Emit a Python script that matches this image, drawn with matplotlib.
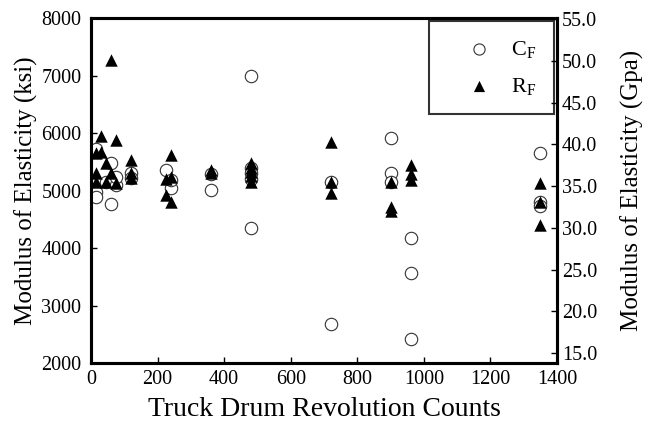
import numpy as np
import matplotlib
matplotlib.use("Agg")
import matplotlib.pyplot as plt

plt.rcParams['font.family'] = ['Liberation Serif', 'DejaVu Serif']
plt.rcParams['mathtext.fontset'] = 'custom'
plt.rcParams['mathtext.rm'] = 'Liberation Serif'
plt.rcParams['mathtext.it'] = 'Liberation Serif'

# C_F : kreds-maerker
cf_rev = [15, 15, 15, 45, 60, 60, 75, 75, 120, 120, 225, 240, 240, 360, 360,
          480, 480, 480, 480, 480, 720, 720, 900, 900, 900, 960, 960, 960,
          1350, 1350, 1350]
cf_E = [5720, 4980, 4880, 5150, 5480, 4760, 5100, 5230, 5310, 5220, 5350,
        5050, 5180, 5010, 5280, 7000, 5400, 5300, 5200, 4350, 5140, 2670,
        5920, 5300, 5150, 4170, 3560, 2420, 5650, 4800, 4730]

# R_F : trekant-maerker
rf_rev = [15, 15, 15, 30, 30, 45, 45, 60, 60, 75, 75, 120, 120, 120, 225, 225,
          240, 240, 240, 360, 360, 480, 480, 480, 480, 480, 720, 720, 720,
          900, 900, 900, 960, 960, 960, 1350, 1350, 1350]
rf_E = [5650, 5300, 5150, 5950, 5670, 5480, 5150, 7270, 5300, 5880, 5130,
        5530, 5300, 5220, 5200, 4920, 5620, 5230, 4800, 5360, 5300, 5480,
        5400, 5320, 5250, 5150, 5840, 5140, 4960, 5150, 4720, 4650, 5440,
        5280, 5180, 5130, 4800, 4400]

KSI_PER_GPA = 145.038

fig = plt.figure(figsize=(6.52, 4.23), dpi=100)
ax = fig.add_axes([0.1396, 0.1418, 0.7148, 0.8156])

ax.scatter(cf_rev, cf_E, s=80, marker='o', facecolors='white',
           edgecolors='#333333', linewidths=0.8, label=r'C$_\mathregular{F}$', zorder=3)
ax.scatter(rf_rev, rf_E, s=80, marker='^', color='black',
           linewidths=0, label=r'R$_\mathregular{F}$', zorder=4)

ax.set_xlim(0, 1400)
ax.set_ylim(2000, 8000)
ax.set_xticks(np.arange(0, 1401, 200))
ax.set_yticks(np.arange(2000, 8001, 1000))
ax.set_xlabel('Truck Drum Revolution Counts', fontsize=20, labelpad=6)
ax.set_ylabel('Modulus of Elasticity (ksi)', fontsize=18, labelpad=2)
ax.tick_params(direction='in', length=4, width=1, labelsize=14.5)
ax.tick_params(axis='y', pad=7)
ax.tick_params(axis='x', pad=5)

# hoejre akse i GPa
ax2 = ax.twinx()
ax2.set_ylim(2000 / KSI_PER_GPA, 8000 / KSI_PER_GPA)
ax2.set_yticks(np.arange(15, 55.1, 5))
ax2.set_yticklabels([f'{v:.1f}' for v in np.arange(15, 55.1, 5)])
ax2.set_ylabel('Modulus of Elasticity (Gpa)', fontsize=18, labelpad=17)
ax2.tick_params(direction='in', length=4, width=1, labelsize=14.5)

for a in (ax, ax2):
    for sp in a.spines.values():
        sp.set_linewidth(2.2)

leg = ax.legend(loc='upper right', frameon=True, fancybox=False,
                fontsize=16, markerscale=0.9, handlelength=2.9,
                handletextpad=0.0, borderpad=0.8, labelspacing=0.7,
                borderaxespad=0.15)
leg.get_frame().set_edgecolor('black')
leg.get_frame().set_linewidth(1.5)

fig.savefig('out.png', dpi=100)
